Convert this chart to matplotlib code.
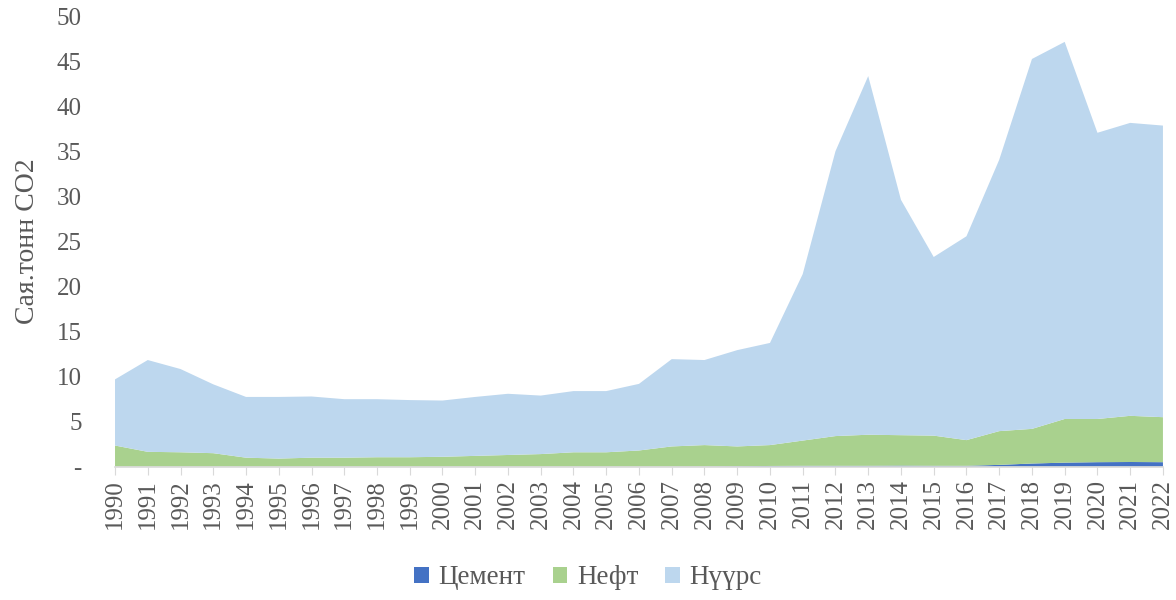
import numpy as np
import matplotlib.pyplot as plt
from matplotlib.patches import Patch

years = list(range(1990, 2023))

# Цемент (cement)
cement = [0.0, 0.0, 0.0, 0.0, 0.0, 0.0, 0.0, 0.0, 0.0, 0.0,
          0.0, 0.0, 0.0, 0.0, 0.0, 0.0, 0.0, 0.0, 0.02, 0.05,
          0.08, 0.1, 0.1, 0.1, 0.12, 0.1, 0.1, 0.2, 0.35, 0.45,
          0.5, 0.52, 0.5]

# cement + oil (top of green band)
oil_top = [2.35, 1.65, 1.6, 1.5, 1.0, 0.9, 1.0, 1.0, 1.05, 1.05,
           1.1, 1.2, 1.3, 1.4, 1.6, 1.6, 1.8, 2.25, 2.4, 2.25,
           2.4, 2.9, 3.4, 3.55, 3.5, 3.45, 2.95, 3.95, 4.2, 5.3,
           5.3, 5.65, 5.5]

# total of all three
total = [9.7, 11.85, 10.85, 9.15, 7.75, 7.75, 7.8, 7.5, 7.5, 7.4,
         7.35, 7.75, 8.1, 7.9, 8.4, 8.4, 9.2, 11.95, 11.85, 12.95,
         13.75, 21.4, 35.05, 43.4, 29.65, 23.3, 25.6, 34.1, 45.3, 47.2,
         37.1, 38.2, 37.9]

oil = [t - c for t, c in zip(oil_top, cement)]
coal = [t - o for t, o in zip(total, oil_top)]

labels = ['Цемент', 'Нефт', 'Нүүрс']
colors = ['#4472C4', '#A9D18E', '#BDD7EE']
text_color = '#595959'

plt.rcParams['font.family'] = ['Liberation Serif', 'DejaVu Serif']
plt.rcParams['font.size'] = 18

fig = plt.figure(figsize=(11.76, 6), dpi=100)
ax = fig.add_axes([0.0978, 0.2222, 0.8911, 0.75])

ax.stackplot(years, cement, oil, coal, colors=colors, linewidth=0)

ax.set_xlim(1990, 2022)
ax.set_ylim(0, 50)
ax.set_xticks(years)
ax.set_xticklabels([str(y) for y in years], rotation=90, color=text_color)
ax.set_yticks(range(0, 51, 5))
ax.set_yticklabels(['-'] + [str(v) for v in range(5, 51, 5)], color=text_color)
ax.tick_params(axis='y', length=0, pad=24)
ax.tick_params(axis='x', length=6, color='#D9D9D9', pad=3)

for s in ['top', 'right', 'left']:
    ax.spines[s].set_visible(False)
ax.spines['bottom'].set_color('#D9D9D9')
ax.spines['bottom'].set_linewidth(1.2)

ax.set_ylabel('Сая.тонн CO2', color=text_color, fontsize=20)
ax.yaxis.set_label_coords(-0.072, 0.5)

handles = [Patch(facecolor=c, edgecolor='none') for c in colors]
fig.legend(handles, labels, loc='center', bbox_to_anchor=(0.5, 0.037),
           ncol=3, frameon=False, fontsize=19.5, handlelength=0.55,
           handleheight=0.55, handletextpad=0.35, columnspacing=1.0,
           labelcolor=text_color)

fig.savefig('out.png', dpi=100)
